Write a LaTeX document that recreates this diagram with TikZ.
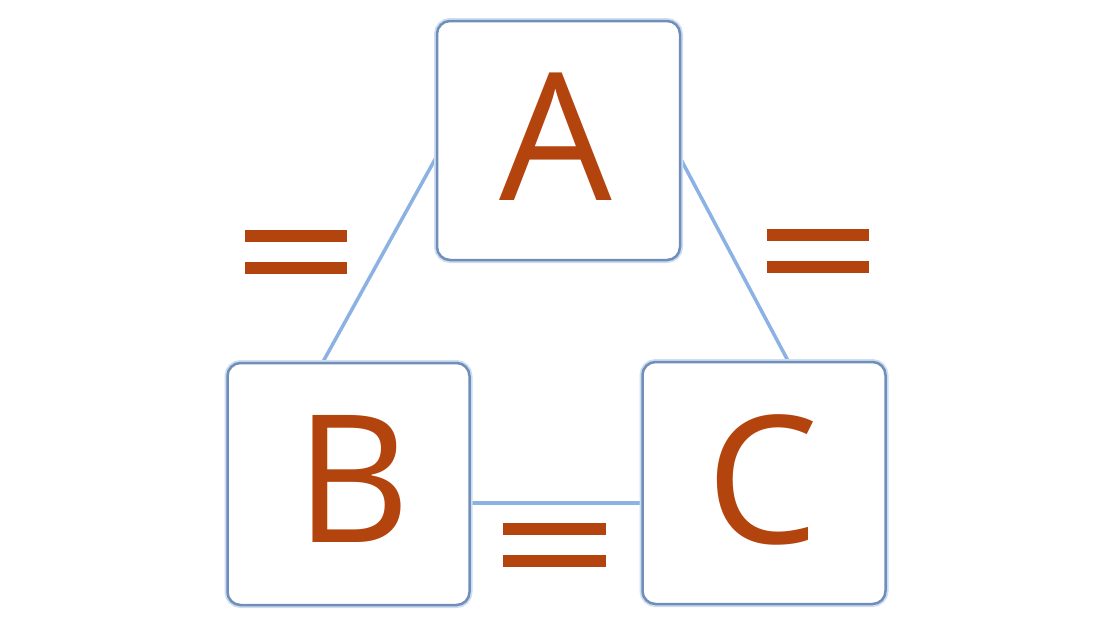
\documentclass[tikz,border=0pt]{standalone}
\usepackage{fontspec}
\setmainfont{Open Sans}
\usetikzlibrary{backgrounds}
\definecolor{lettercol}{RGB}{180,68,14}
\definecolor{boxedge}{RGB}{112,142,184}
\definecolor{glow}{RGB}{205,222,242}
\definecolor{linkcol}{RGB}{140,178,228}
\begin{document}
\begin{tikzpicture}[x=1pt,y=-1pt,
  box/.style={draw=boxedge, line width=2.5pt, rounded corners=13pt, fill=white,
    inner sep=0pt, preaction={draw=glow, line width=6pt}},
  letter/.style={anchor=base, text=lettercol, inner sep=0pt,
    font=\fontsize{178}{178}\selectfont},
  link/.style={draw=linkcol, line width=3.5pt},
  bar/.style={fill=lettercol}]
\useasboundingbox (0,0) rectangle (1100,619);
\node[box, minimum width=243pt, minimum height=239pt] (a) at (558.5,140.5) {};
\node[box, minimum width=242pt, minimum height=242pt] (b) at (348.5,484) {};
\node[box, minimum width=243pt, minimum height=242pt] (c) at (764,483) {};
\node[letter] (la) at (556,200) {A};
\node[letter] (lb) at (353,542) {B};
\node[letter] (lc) at (763,543) {C};
\begin{pgfonlayer}{background}
\fill[white] (0,0) rectangle (1100,619);
\draw[link] ([yshift=-17.5pt]a.west) -- ([xshift=-25.5pt]b.north);
\draw[link] ([yshift=-19.5pt]a.east) -- ([xshift=24pt]c.north);
\draw[link] ([yshift=-19pt]b.east) -- ([yshift=-19pt]b.east -| c.west);
\end{pgfonlayer}
\fill[bar] (245,230) rectangle (347,242);
\fill[bar] (245,262) rectangle (347,274);
\fill[bar] (767,229) rectangle (869,241);
\fill[bar] (767,261) rectangle (869,273);
\fill[bar] (503,523) rectangle (606,535);
\fill[bar] (503,555) rectangle (606,567);
\end{tikzpicture}
\end{document}
